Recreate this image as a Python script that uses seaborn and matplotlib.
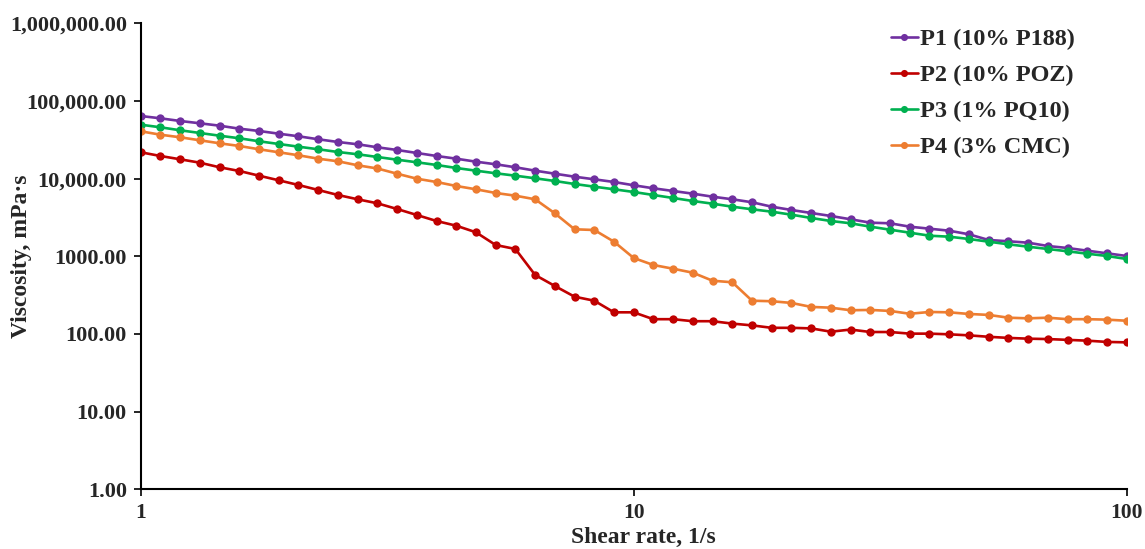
import matplotlib
matplotlib.use('Agg')
import matplotlib.pyplot as plt
import seaborn as sns
import pandas as pd


# Shear rate, 1/s
shear_rate = [1.000, 1.096, 1.202, 1.318, 1.445, 1.585, 1.738, 1.905, 2.089, 2.291,
              2.512, 2.754, 3.020, 3.311, 3.631, 3.981, 4.365, 4.786, 5.248, 5.754,
              6.310, 6.918, 7.586, 8.318, 9.120, 10.00, 10.96, 12.02, 13.18, 14.45,
              15.85, 17.38, 19.05, 20.89, 22.91, 25.12, 27.54, 30.20, 33.11, 36.31,
              39.81, 43.65, 47.86, 52.48, 57.54, 63.10, 69.18, 75.86, 83.18, 91.20,
              100.0]

# Viscosity, mPa·s
p1 = [64000, 59800, 55230, 51590, 48040, 43950, 41060, 37890, 35090, 32110,
      29630, 27680, 25320, 23380, 21390, 19570, 18060, 16530, 15300, 14000,
      12660, 11570, 10590, 9800, 9050, 8210, 7510, 6930, 6400, 5855,
      5420, 4960, 4352, 3947, 3611, 3304, 2996, 2709, 2661, 2406,
      2267, 2136, 1920, 1622, 1561, 1497, 1357, 1279, 1181, 1093,
      1009]
p2 = [21840, 19570, 17740, 16040, 14000, 12540, 10910, 9520, 8280, 7140,
      6157, 5420, 4813, 4065, 3403, 2848, 2478, 2038, 1398, 1242,
      575, 415, 302, 268, 190, 190, 155, 155, 146, 146,
      136, 129, 120, 120, 118, 107, 114, 106, 106, 101,
      101, 99, 96, 92, 89, 87, 86, 84, 82, 79,
      78]
p3 = [49480, 45810, 41920, 38690, 35710, 33070, 30250, 27930, 25780, 23870,
      22030, 20580, 18990, 17530, 16230, 14990, 13710, 12660, 11720, 10910,
      10100, 9324, 8531, 7877, 7293, 6730, 6157, 5634, 5153, 4757,
      4352, 4030, 3753, 3434, 3113, 2848, 2661, 2406, 2201, 2014,
      1842, 1788, 1671, 1542, 1427, 1329, 1242, 1160, 1080, 1009,
      923]
p4 = [40690, 36780, 34060, 31160, 28510, 26320, 23870, 21840, 19980, 18060,
      16720, 14850, 13510, 11570, 9980, 9050, 8040, 7290, 6535, 6030,
      5420, 3578, 2227, 2181, 1542, 951, 773, 692, 615, 485,
      463, 268, 264, 251, 223, 218, 202, 204, 198, 182,
      192, 190, 181, 176, 162, 159, 162, 155, 155, 153,
      148]

series_names = ['P1 (10% P188)', 'P2 (10% POZ)', 'P3 (1% PQ10)', 'P4 (3% CMC)']
series_colors = ['#7030A0', '#C00000', '#00B050', '#ED7D31']

y_ticks = [1, 10, 100, 1000, 10000, 100000, 1000000]
y_tick_labels = ['1.00', '10.00', '100.00', '1000.00', '10,000.00',
                 '100,000.00', '1,000,000.00']
x_ticks = [1, 10, 100]
x_tick_labels = ['1', '10', '100']


sns.set_style('white')
plt.rcParams['font.family'] = ['Liberation Serif', 'DejaVu Serif']
plt.rcParams['font.weight'] = 'bold'

# long table for seaborn
frames = []
for name, vals in zip(series_names, [p1, p2, p3, p4]):
    frames.append(pd.DataFrame({'shear': shear_rate, 'visc': vals, 'sample': name}))
df = pd.concat(frames, ignore_index=True)

fig = plt.figure(figsize=(11.45, 5.49), dpi=100)
ax = fig.add_axes([0.1229, 0.1087, 0.8611, 0.8489])

sns.lineplot(data=df, x='shear', y='visc', hue='sample',
             palette=dict(zip(series_names, series_colors)),
             marker='o', markersize=6, markeredgewidth=0,
             linewidth=1.9, ax=ax, legend=True)

ax.set_xscale('log')
ax.set_yscale('log')
ax.set_xlim(1, 100)
ax.set_ylim(1, 1000000)

ax.set_xticks(x_ticks)
ax.set_xticklabels(x_tick_labels, fontsize=15.5, fontweight='bold')
ax.set_yticks(y_ticks)
ax.set_yticklabels(y_tick_labels, fontsize=16, fontweight='bold')
ax.minorticks_off()
ax.tick_params(axis='both', direction='out', length=5, width=1.2,
               color='black', left=True, bottom=True, pad=5)

for side in ['top', 'right']:
    ax.spines[side].set_visible(False)
for side in ['left', 'bottom']:
    ax.spines[side].set_color('black')
    ax.spines[side].set_linewidth(1.5)

ax.set_xlabel('Shear rate, 1/s', fontsize=17, fontweight='bold',
              ha='center', va='center')
ax.xaxis.set_label_coords(0.51, -0.103)
ax.set_ylabel('Viscosity, mPa·s', fontsize=17, fontweight='bold',
              ha='center', va='center')
ax.yaxis.set_label_coords(-0.121, 0.5)

leg = ax.legend(loc='upper left', bbox_to_anchor=(891 / 1145, 1 - 28 / 549),
                bbox_transform=fig.transFigure, frameon=False,
                fontsize=17.5, handlelength=1.1, handletextpad=0.1,
                labelspacing=0.58, borderpad=0, borderaxespad=0,
                markerscale=0.85)
for txt in leg.get_texts():
    txt.set_fontweight('bold')

fig.savefig('out.png', dpi=100)
